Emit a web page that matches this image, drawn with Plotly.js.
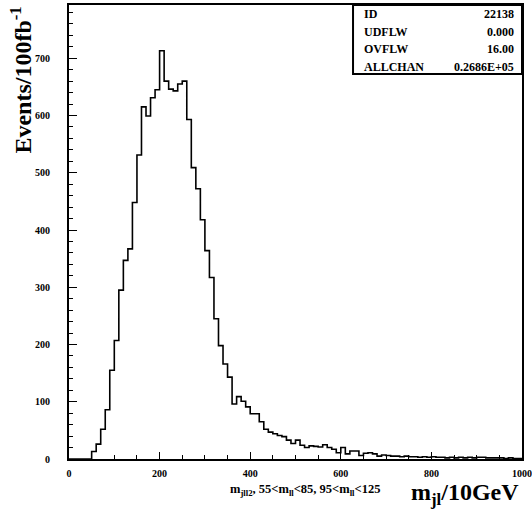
<!DOCTYPE html>
<html>
<head>
<meta charset="utf-8">
<script src="https://cdn.plot.ly/plotly-3.0.1.min.js"></script>
<style>html,body{margin:0;padding:0;background:#fff;}#chart{width:532px;height:513px;}</style>
</head>
<body>
<div id="chart"></div>
<script>
// Bin lower edges (m_jl, 10 GeV bins)
const binLowEdges = [0,10,20,30,40,50,60,70,80,90,100,110,120,130,140,150,160,170,180,190,
  200,210,220,230,240,250,260,270,280,290,300,310,320,330,340,350,360,370,380,390,
  400,410,420,430,440,450,460,470,480,490,500,510,520,530,540,550,560,570,580,590,
  600,610,620,630,640,650,660,670,680,690,700,710,720,730,740,750,760,770,780,790,
  800,810,820,830,840,850,860,870,880,890,900,910,920,930,940,950,960,970,980,990];
const histUpperEdge = 1000;
// Events / 100 fb^-1 per bin
const binContents = [0,0,0,0,0,13,26,52,86,155,
  207,295,347,367,448,531,615,599,631,645,
  713,660,646,643,655,660,593,509,472,418,
  364,317,245,198,166,143,96,109,101,91,
  79,79,65,52,47,44,41,39,33,27,
  33,24,20,23,22,21,25,20,17,11,
  20,9,14,14,6,10,11,9,5,7,
  6,5,5,4,5,4,4,3,4,3,
  4,3,3,2,3,2,3,2,3,2,
  3,3,2,2,2,2,1,2,1,1];
const xTickVals = [0,200,400,600,800,1000];
const xTickText = ['0','200','400','600','800','1000'];
const yTickVals = [0,100,200,300,400,500,600,700];
const yTickText = ['0','100','200','300','400','500','600','700'];
const statLabels = ['ID','UDFLW','OVFLW','ALLCHAN'];
const statValues = ['22138','0.000','16.00','0.2686E+05'];

const xs = binLowEdges.concat([histUpperEdge]);
const ys = binContents.concat([binContents[binContents.length-1]]);

const serif = 'Liberation Serif, Times New Roman, serif';

const trace = {
  type: 'scatter', mode: 'lines', x: xs, y: ys,
  line: {shape: 'hv', color: '#000', width: 1.6},
  hoverinfo: 'skip', showlegend: false
};

const statRowsY = [0.980, 0.941, 0.902, 0.864];
const annotations = [];
statLabels.forEach((t, i) => {
  annotations.push({xref:'paper', yref:'paper', x:0.647, y:statRowsY[i], xanchor:'left', yanchor:'middle',
    text:t, showarrow:false, font:{family:serif, size:12, color:'#000', weight:'bold'}});
  annotations.push({xref:'paper', yref:'paper', x:0.987, y:statRowsY[i], xanchor:'right', yanchor:'middle',
    text:statValues[i], showarrow:false, font:{family:serif, size:12, color:'#000', weight:'bold'}});
});
annotations.push({xref:'paper', yref:'paper', x:-0.108, y:1.0, xanchor:'center', yanchor:'top', textangle:-90,
  text:'Events/100fb<sup>-1</sup>', showarrow:false, font:{family:serif, size:24, color:'#000', weight:'bold'}});
annotations.push({xref:'paper', yref:'paper', x:0.997, y:-0.04, xanchor:'right', yanchor:'top',
  text:'m<sub>jl</sub>/10GeV', showarrow:false, font:{family:serif, size:24, color:'#000', weight:'bold'}});
annotations.push({xref:'paper', yref:'paper', x:0.52, y:-0.068, xanchor:'center', yanchor:'middle',
  text:'m<sub>jll2</sub>, 55&lt;m<sub>ll</sub>&lt;85, 95&lt;m<sub>ll</sub>&lt;125', showarrow:false,
  font:{family:serif, size:12.5, color:'#000', weight:'bold'}});

const layout = {
  width: 532, height: 513,
  margin: {l: 69, r: 10, t: 5, b: 54},
  paper_bgcolor: '#fff', plot_bgcolor: '#fff',
  showlegend: false,
  xaxis: {
    range: [0, 1000], showgrid: false, zeroline: false,
    showline: true, linecolor: '#000', linewidth: 2, mirror: true,
    ticks: 'inside', ticklen: 7, tickwidth: 1, tickcolor: '#000',
    tickvals: xTickVals, ticktext: xTickText, ticklabelstandoff: 4,
    tickfont: {family: serif, size: 10, color: '#000', weight: 'bold'},
    minor: {dtick: 50, ticks: 'inside', ticklen: 4, tickwidth: 1, tickcolor: '#000', showgrid: false}
  },
  yaxis: {
    range: [0, 793], showgrid: false, zeroline: false,
    showline: true, linecolor: '#000', linewidth: 2, mirror: true,
    ticks: 'inside', ticklen: 8, tickwidth: 1, tickcolor: '#000',
    tickvals: yTickVals, ticktext: yTickText, ticklabelstandoff: 15,
    tickfont: {family: serif, size: 10, color: '#000', weight: 'bold'},
    minor: {dtick: 20, ticks: 'inside', ticklen: 4, tickwidth: 1, tickcolor: '#000', showgrid: false}
  },
  shapes: [{type: 'rect', xref: 'paper', yref: 'paper', x0: 0.627, x1: 1, y0: 0.848, y1: 1,
    line: {color: '#000', width: 2}, fillcolor: 'rgba(0,0,0,0)'}],
  annotations: annotations
};

Plotly.newPlot('chart', [trace], layout, {staticPlot: true, displayModeBar: false});
</script>
</body>
</html>
